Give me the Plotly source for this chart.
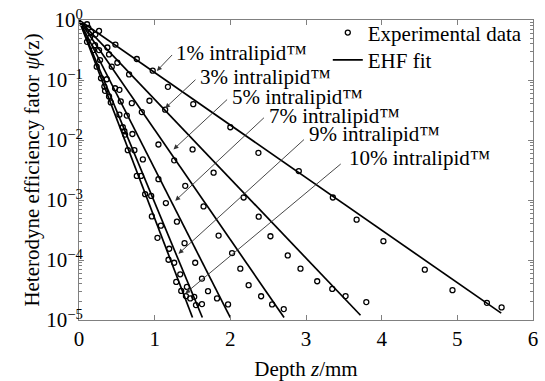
import plotly.graph_objects as go
import numpy as np

# ---------------- data ----------------
labels = ["1%", "3%", "5%", "7%", "9%", "10%"]

z_1 = [0.106, 0.265, 0.481, 0.764, 0.974, 1.175, 1.510, 2.000, 2.371, 2.905, 3.355, 3.669, 4.023, 4.570, 4.936, 5.391, 5.585]
psi_1 = [0.849, 0.657, 0.390, 0.224, 0.143, 0.0769, 0.0396, 0.0163, 0.00611, 0.00304, 0.00110, 4.70e-4, 2.06e-4, 6.9e-5, 3.14e-5, 1.93e-5, 1.62e-5]

z_3 = [0.123, 0.159, 0.216, 0.375, 0.397, 0.507, 0.662, 0.931, 1.139, 1.501, 1.779, 2.176, 2.375, 2.530, 2.759, 2.927, 3.148, 3.347, 3.523, 3.797]
psi_3 = [0.74, 0.633, 0.571, 0.348, 0.267, 0.194, 0.124, 0.0451, 0.0320, 0.00696, 0.00285, 0.00110, 5.27e-4, 2.49e-4, 1.19e-4, 7.17e-5, 4.42e-5, 3.30e-5, 2.50e-5, 1.99e-5]

z_5 = [0.146, 0.212, 0.265, 0.433, 0.534, 0.698, 0.830, 1.050, 1.258, 1.404, 1.646, 1.845, 2.023, 2.132, 2.242, 2.407, 2.552, 2.706]
psi_5 = [0.509, 0.381, 0.315, 0.167, 0.0686, 0.0411, 0.0292, 0.00842, 0.00458, 0.00172, 7.8e-4, 2.55e-4, 1.30e-4, 7.18e-5, 3.80e-5, 2.49e-5, 1.82e-5, 1.52e-5]

z_7 = [0.189, 0.278, 0.367, 0.477, 0.552, 0.632, 0.706, 0.844, 1.050, 1.148, 1.294, 1.395, 1.536, 1.625, 1.705, 1.824, 1.970]
psi_7 = [0.315, 0.215, 0.103, 0.0729, 0.0439, 0.0255, 0.0126, 0.00475, 0.00222, 8.9e-4, 4.35e-4, 1.91e-4, 9.0e-5, 4.9e-5, 3.02e-5, 2.29e-5, 1.82e-5]

z_9 = [0.106, 0.397, 0.534, 0.579, 0.600, 0.732, 0.821, 0.954, 1.082, 1.192, 1.258, 1.338, 1.426, 1.470, 1.523, 1.546, 1.625]
psi_9 = [0.432, 0.0531, 0.0264, 0.0163, 0.0140, 0.00678, 0.00252, 0.00117, 3.74e-4, 1.54e-4, 9.0e-5, 5.78e-5, 3.56e-5, 2.29e-5, 2.43e-5, 1.77e-5, 1.84e-5]

z_10 = [0.234, 0.291, 0.335, 0.344, 0.420, 0.609, 0.645, 0.764, 0.874, 0.963, 1.037, 1.183, 1.285, 1.351, 1.413]
psi_10 = [0.167, 0.107, 0.0778, 0.0660, 0.0423, 0.0123, 0.00678, 0.00252, 0.00125, 5.33e-4, 2.34e-4, 1.01e-4, 4.31e-5, 3.05e-5, 2.50e-5]

# EHF fit lines: straight in log space from (0, 1) to an end point
fit_start_z = 0.0
fit_start_psi = 1.0
fit_end_z = [5.58, 3.72, 2.71, 2.00, 1.63, 1.50]
fit_end_psi = [1.3e-5, 1.2e-5, 1.1e-5, 1.1e-5, 1.1e-5, 1.1e-5]

ytick_vals = [1e-5, 1e-4, 1e-3, 1e-2, 1e-1, 1]
ytick_text = ["10<sup>\u22125</sup>", "10<sup>\u22124</sup>", "10<sup>\u22123</sup>",
              "10<sup>\u22122</sup>", "10<sup>\u22121</sup>", "10<sup>0</sup>"]
xtick_vals = [0, 1, 2, 3, 4, 5, 6]

z_data = [z_1, z_3, z_5, z_7, z_9, z_10]
psi_data = [psi_1, psi_3, psi_5, psi_7, psi_9, psi_10]

FONT = "Liberation Serif"

fig = go.Figure()

for i, (zz, pp) in enumerate(zip(z_data, psi_data)):
    fig.add_trace(go.Scatter(
        x=zz, y=pp, mode="markers",
        marker=dict(symbol="circle-open", size=5, color="black", line=dict(width=1.3, color="black")),
        name="Experimental data", showlegend=(i == 0), legend="legend"))

for i in range(len(labels)):
    fig.add_trace(go.Scatter(
        x=[fit_start_z, fit_end_z[i]], y=[fit_start_psi, fit_end_psi[i]],
        mode="lines", line=dict(color="black", width=1.7),
        name="EHF fit", showlegend=(i == 0), legend="legend2"))

# label annotations (text anchor, arrow tail, arrow tip) in axis units (y in log10)
label_text_pos = [(1.255, -0.555), (1.576, -0.950), (2.000, -1.281), (2.486, -1.606), (3.015, -1.904), (3.545, -2.301)]
arrow_tail = [(1.249, -0.558), (1.559, -0.972), (1.977, -1.303), (2.464, -1.606), (2.993, -1.970), (3.479, -2.379)]
arrow_tip = [(1.029, -0.849), (1.139, -1.469), (1.249, -2.157), (1.272, -3.013), (1.315, -3.896), (1.404, -4.558)]

annotations = []
for lab, tp, tl, tip in zip(labels, label_text_pos, arrow_tail, arrow_tip):
    annotations.append(dict(
        x=tp[0], y=tp[1], xref="x", yref="y", text=lab + " intralipid\u2122",
        showarrow=False, xanchor="left", yanchor="middle",
        font=dict(family=FONT, size=21, color="black")))
    annotations.append(dict(
        x=tip[0], y=tip[1], xref="x", yref="y", ax=tl[0], ay=tl[1], axref="x", ayref="y",
        text="", showarrow=True, arrowhead=2, arrowsize=1.1, arrowwidth=0.9,
        arrowcolor="#333333", standoff=0))

legend_common = dict(xanchor="left", yanchor="middle", bgcolor="rgba(0,0,0,0)",
                     font=dict(family=FONT, size=21, color="black"), itemwidth=30)

fig.update_layout(
    width=545, height=381,
    margin=dict(l=79, r=12, t=18, b=61),
    paper_bgcolor="white", plot_bgcolor="white",
    font=dict(family=FONT, size=21, color="black"),
    showlegend=True,
    legend=dict(x=0.548, y=0.957, **legend_common),
    legend2=dict(x=0.548, y=0.866, **legend_common),
    annotations=annotations,
)

fig.update_xaxes(
    range=[0, 6], tickvals=xtick_vals, ticks="inside", ticklen=5, tickcolor="#808080",
    showline=True, linecolor="#808080", linewidth=1, mirror="ticks", showgrid=False, zeroline=False,
    automargin=False,
    tickfont=dict(family=FONT, size=21, color="black"),
    title=dict(text="Depth <i>z</i>/mm", font=dict(family=FONT, size=21, color="black"), standoff=16),
)
fig.update_yaxes(
    type="log", range=[-5, 0], tickmode="array", tickvals=ytick_vals, ticktext=ytick_text,
    ticks="inside", ticklen=5, tickcolor="#808080", ticklabelstandoff=-9,
    minor=dict(ticks="inside", ticklen=3, tickcolor="#808080", dtick="D1", showgrid=False),
    showline=True, linecolor="#808080", linewidth=1, mirror="ticks", showgrid=False, zeroline=False,
    automargin=False,
    tickfont=dict(family=FONT, size=21, color="black"),
    title=dict(text="Heterodyne efficiency fator <i>\u03c8</i>(z)", font=dict(family=FONT, size=21, color="black"), standoff=0),
)

fig.write_html("out.html", config={"displayModeBar": False},
               post_script="document.body.style.margin='0';")
